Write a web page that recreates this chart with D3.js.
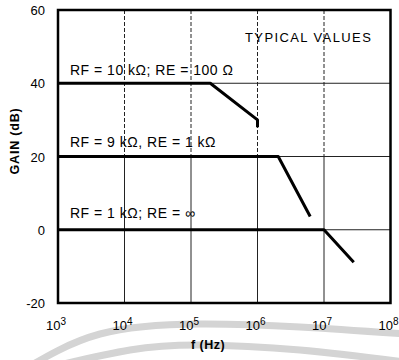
<!DOCTYPE html>
<html>
<head>
<meta charset="utf-8">
<script src="https://cdn.jsdelivr.net/npm/d3@7/dist/d3.min.js"></script>
<style>
  html, body { margin: 0; padding: 0; background: #fff; }
  svg { display: block; font-family: "Liberation Sans", Arial, sans-serif; }
</style>
</head>
<body>
<svg id="chart" width="399" height="360"></svg>
<script>
// Frequency-response curves: gain (dB) versus frequency (Hz)
const freqTicks = [1e3, 1e4, 1e5, 1e6, 1e7, 1e8];
const freqTickExp = ["3", "4", "5", "6", "7", "8"];
const gainTicks = [-20, 0, 20, 40, 60];
const gainTickLabels = ["-20", "0", "20", "40", "60"];

const curveLabels = ["RF = 10 kΩ; RE = 100 Ω", "RF = 9 kΩ, RE = 1 kΩ", "RF = 1 kΩ; RE = ∞"];
const curveFreqs1 = [1e3, 1.95e5, 1e6, 1e6];
const curveGains1 = [40, 40, 30, 28];
const curveFreqs2 = [1e3, 2.05e6, 6.2e6];
const curveGains2 = [20, 20, 3.6];
const curveFreqs3 = [1e3, 1e7, 2.8e7];
const curveGains3 = [0, 0, -8.9];

const svg = d3.select("#chart");

// faint background arcs
const arcLine = d3.line().curve(d3.curveNatural);
const arcs = [
  [[20, 372], [100, 334], [200, 324], [300, 327], [405, 334]],
  [[55, 366], [130, 350], [200, 345], [300, 350], [405, 362]]
];
svg.append("g").selectAll("path").data(arcs).join("path")
  .attr("d", arcLine)
  .attr("fill", "none")
  .attr("stroke", "#d4d4d4")
  .attr("stroke-width", 7);

const x = d3.scaleLog().domain([1e3, 1e8]).range([58, 390.5]);
const y = d3.scaleLinear().domain([-20, 60]).range([303, 10]);

// grid
const grid = svg.append("g");
freqTicks.slice(1, -1).forEach(f => {
  grid.append("line")
    .attr("x1", x(f)).attr("x2", x(f))
    .attr("y1", y(60)).attr("y2", y(20))
    .attr("stroke", "#222").attr("stroke-width", 1)
    .attr("stroke-dasharray", "4,2");
  grid.append("line")
    .attr("x1", x(f)).attr("x2", x(f))
    .attr("y1", y(20)).attr("y2", y(-20))
    .attr("stroke", "#222").attr("stroke-width", 1);
});
gainTicks.slice(1, -1).forEach(g => {
  grid.append("line")
    .attr("x1", x(1e3)).attr("x2", x(1e8))
    .attr("y1", y(g)).attr("y2", y(g))
    .attr("stroke", "#222").attr("stroke-width", 1);
});

// frame
svg.append("rect")
  .attr("x", x(1e3)).attr("y", y(60))
  .attr("width", x(1e8) - x(1e3)).attr("height", y(-20) - y(60))
  .attr("fill", "none").attr("stroke", "#000").attr("stroke-width", 2.5);

// curves
const line = d3.line().x(d => x(d[0])).y(d => y(d[1]));
const curves = [
  d3.zip(curveFreqs1, curveGains1),
  d3.zip(curveFreqs2, curveGains2),
  d3.zip(curveFreqs3, curveGains3)
];
svg.append("g").selectAll("path").data(curves).join("path")
  .attr("d", line)
  .attr("fill", "none")
  .attr("stroke", "#000")
  .attr("stroke-width", 3)
  .attr("stroke-linejoin", "round");

// curve labels
const labelY = [75, 147, 218];
svg.append("g").selectAll("text").data(curveLabels).join("text")
  .attr("x", 70)
  .attr("y", (d, i) => labelY[i])
  .attr("font-size", 14)
  .attr("letter-spacing", 0.5)
  .attr("fill", "#000")
  .text(d => d);

svg.append("text")
  .attr("x", 245).attr("y", 42)
  .attr("font-size", 13)
  .attr("letter-spacing", 1.4)
  .text("TYPICAL VALUES");

// y tick labels
svg.append("g").selectAll("text").data(gainTicks).join("text")
  .attr("x", 45)
  .attr("y", d => y(d) + 5)
  .attr("text-anchor", "end")
  .attr("font-size", 13)
  .text((d, i) => gainTickLabels[i]);

// x tick labels with exponents
const xt = svg.append("g").selectAll("text").data(freqTicks).join("text")
  .attr("x", d => x(d) - 2)
  .attr("y", 330)
  .attr("text-anchor", "middle")
  .attr("font-size", 13);
xt.append("tspan").text("10");
xt.append("tspan")
  .attr("dy", -5)
  .attr("font-size", 10)
  .text((d, i) => freqTickExp[i]);

// axis titles
svg.append("text")
  .attr("transform", "translate(19,141) rotate(-90)")
  .attr("text-anchor", "middle")
  .attr("font-size", 12.5)
  .attr("letter-spacing", 0.8)
  .attr("font-weight", "bold")
  .text("GAIN (dB)");

svg.append("text")
  .attr("x", 208).attr("y", 349)
  .attr("text-anchor", "middle")
  .attr("font-size", 12.5)
  .attr("letter-spacing", 0.5)
  .attr("font-weight", "bold")
  .text("f (Hz)");
</script>
</body>
</html>
